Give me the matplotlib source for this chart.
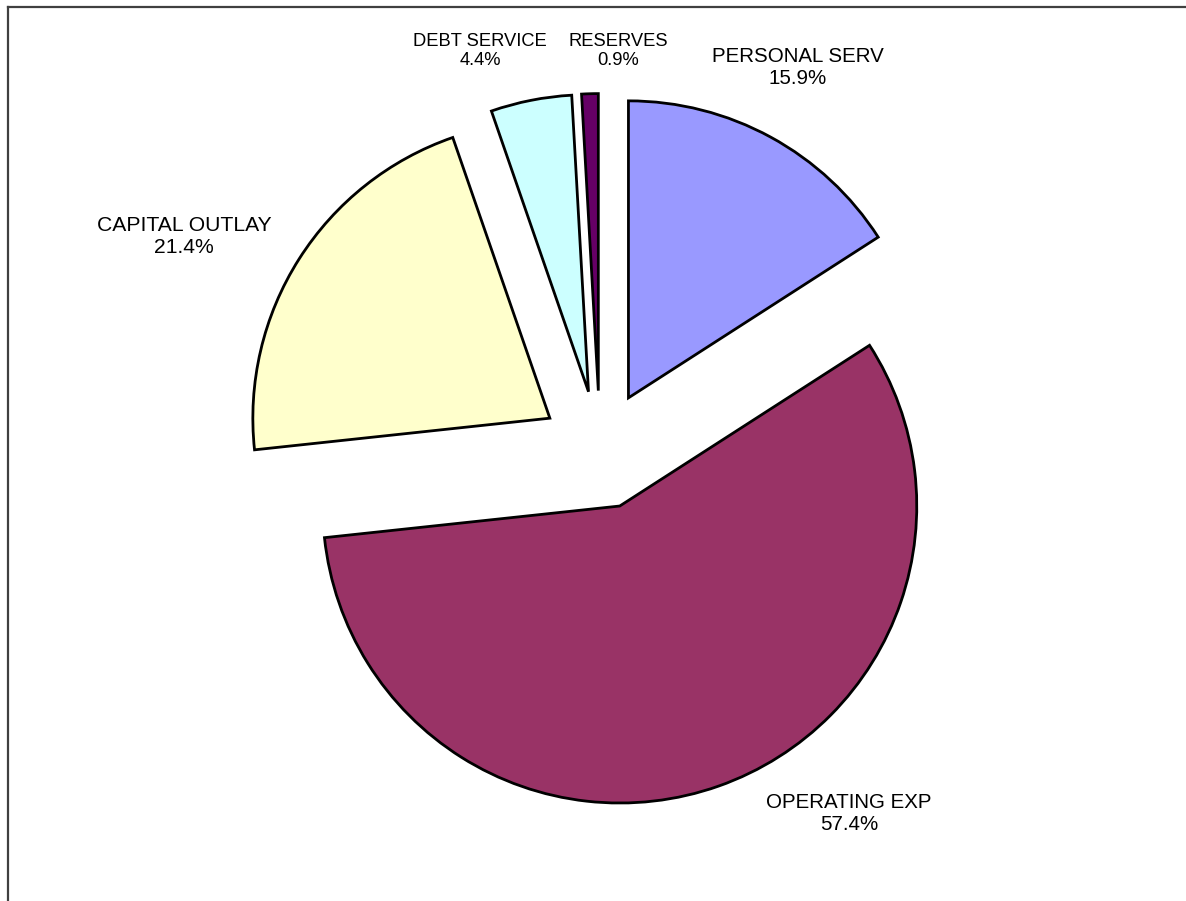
import matplotlib
matplotlib.use("Agg")
import matplotlib.pyplot as plt
from matplotlib.lines import Line2D

# Budget breakdown, clockwise from 12 o'clock
categories = ["PERSONAL SERV", "OPERATING EXP", "CAPITAL OUTLAY", "DEBT SERVICE", "RESERVES"]
shares = [15.9, 57.4, 21.4, 4.4, 0.9]
colors = ["#9999FF", "#993366", "#FFFFCC", "#CCFFFF", "#660066"]

# label block centres in pixels (x from left, y from top) and font sizes
label_pos_px = [(798, 67), (849, 813), (184, 237), (480, 51), (618, 51)]
label_size = [14.8, 14.8, 15.2, 13.2, 13.2]

W, H = 1186, 901
CX, CY, R = 600, 450, 297  # pie centre / radius in pixels

fig = plt.figure(figsize=(W / 100, H / 100), dpi=100)
fig.patch.set_facecolor("white")
ax = fig.add_axes([0, 0, 1, 1])
ax.set_axis_off()

ax.pie(
    shares,
    colors=colors,
    startangle=90,
    counterclock=False,
    explode=[0.2] * len(shares),
    wedgeprops=dict(edgecolor="black", linewidth=2.0),
)
ax.set_xlim(-CX / R, (W - CX) / R)
ax.set_ylim(-(H - CY) / R, CY / R)
ax.set_aspect("auto")

for name, val, (px, py), fs in zip(categories, shares, label_pos_px, label_size):
    fig.text(
        px / W, 1 - py / H, f"{name}\n{val:.1f}%",
        ha="center", va="center", fontsize=fs,
        family="Liberation Sans", linespacing=1.2,
    )

# chart-area frame (top and left edges only)
fig.add_artist(Line2D([7.5 / W, 1], [1 - 6.5 / H, 1 - 6.5 / H],
                      transform=fig.transFigure, color="#404040", lw=1.6))
fig.add_artist(Line2D([7.5 / W, 7.5 / W], [0, 1 - 6.5 / H],
                      transform=fig.transFigure, color="#404040", lw=1.6))

fig.savefig("out.png", dpi=100, facecolor="white")
